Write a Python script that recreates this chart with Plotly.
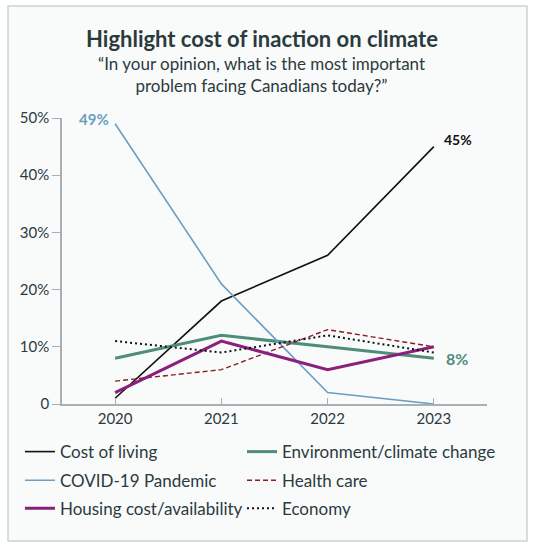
import plotly.graph_objects as go

years = [2020, 2021, 2022, 2023]

cost_of_living = [1, 18, 26, 45]
covid = [49, 21, 2, 0]
housing = [2, 11, 6, 10]
environment = [8, 12, 10, 8]
health_care = [4, 6, 13, 10]
economy = [11, 9, 12, 9]

y_ticks = [0, 10, 20, 30, 40, 50]
y_tick_labels = ['0', '10%', '20%', '30%', '40%', '50%']

FONT = 'Lato, Open Sans, sans-serif'
TEXT = '#2b3a3d'

fig = go.Figure()

# One legend per entry so the 2x3 grid can be placed exactly.
series = [
    ('Cost of living', cost_of_living, '#111111', 1.6, 'solid', 'legend'),
    ('Environment/climate change', environment, '#4f8c7a', 3, 'solid', 'legend2'),
    ('COVID-19 Pandemic', covid, '#6b9fc2', 1.6, 'solid', 'legend3'),
    ('Health care', health_care, '#8e1b24', 1.4, '5px,3px', 'legend4'),
    ('Housing cost/availability', housing, '#8a1f7c', 3, 'solid', 'legend5'),
    ('Economy', economy, '#111111', 2, '2px,3px', 'legend6'),
]
for name, values, color, width, dash, leg in series:
    fig.add_trace(go.Scatter(x=years, y=values, name=name, mode='lines', legend=leg,
                             line=dict(color=color, width=width, dash=dash)))

# End labels.
fig.add_annotation(x=years[0], y=covid[0], text='<b>49%</b>', showarrow=False,
                   xanchor='right', xshift=-4, yshift=5, font=dict(color='#6b9fc2', size=15, family=FONT))
fig.add_annotation(x=years[-1], y=cost_of_living[-1], text='<b>45%</b>', showarrow=False,
                   xanchor='left', xshift=8, yshift=7, font=dict(color='#111111', size=14, family=FONT))
fig.add_annotation(x=years[-1], y=environment[-1], text='<b>8%</b>', showarrow=False,
                   xanchor='left', xshift=10, yshift=0, font=dict(color='#4f8c7a', size=16, family=FONT))

# Titles.
fig.add_annotation(xref='paper', yref='paper', x=0.47, y=1.0, yanchor='bottom', yshift=64,
                   text='<b>Highlight cost of inaction on climate</b>', showarrow=False,
                   font=dict(size=22, color=TEXT, family=FONT))
fig.add_annotation(xref='paper', yref='paper', x=0.47, y=1.0, yanchor='bottom', yshift=20,
                   text='\u201cIn your opinion, what is the most important<br>problem facing Canadians today?\u201d',
                   showarrow=False, font=dict(size=17, color=TEXT, family=FONT))

# Outer frame.
fig.add_shape(type='rect', xref='paper', yref='paper', layer='below',
              x0=-0.127, x1=1.094, y0=-0.479, y1=1.392,
              line=dict(color='#c9d3d6', width=1.5), fillcolor='#f9fbfb')

legend_style = dict(orientation='h', xanchor='left', yanchor='middle',
                    font=dict(size=17, color=TEXT), bgcolor='rgba(0,0,0,0)')
col_x = [-0.099, 0.4235]
row_y = [-0.168, -0.268, -0.366]

fig.update_layout(
    width=534, height=550,
    margin=dict(l=62, r=47, t=118, b=146),
    paper_bgcolor='white', plot_bgcolor='rgba(0,0,0,0)',
    font=dict(family=FONT, color=TEXT),
    showlegend=True,
    legend=dict(legend_style, x=col_x[0], y=row_y[0]),
    legend2=dict(legend_style, x=col_x[1], y=row_y[0]),
    legend3=dict(legend_style, x=col_x[0], y=row_y[1]),
    legend4=dict(legend_style, x=col_x[1], y=row_y[1]),
    legend5=dict(legend_style, x=col_x[0], y=row_y[2]),
    legend6=dict(legend_style, x=col_x[1], y=row_y[2]),
    xaxis=dict(range=[2019.5, 2023.5], tickvals=years, showgrid=False, zeroline=False,
               showline=True, linecolor='#a9b0b2', linewidth=1.5,
               ticks='inside', ticklen=6, tickcolor='#a9b0b2',
               tickfont=dict(size=15, color=TEXT)),
    yaxis=dict(range=[0, 50], tickvals=y_ticks, ticktext=y_tick_labels, showgrid=False,
               zeroline=False, showline=True, linecolor='#a9b0b2', linewidth=1.5,
               ticks='outside', ticklen=8, tickcolor='#a9b0b2',
               tickfont=dict(size=15, color=TEXT)),
)

# Drop the browser's default body margin so the figure sits at the window corner.
fig.write_html('out.html', config={'displayModeBar': False},
               post_script="document.body.style.margin='0';")
